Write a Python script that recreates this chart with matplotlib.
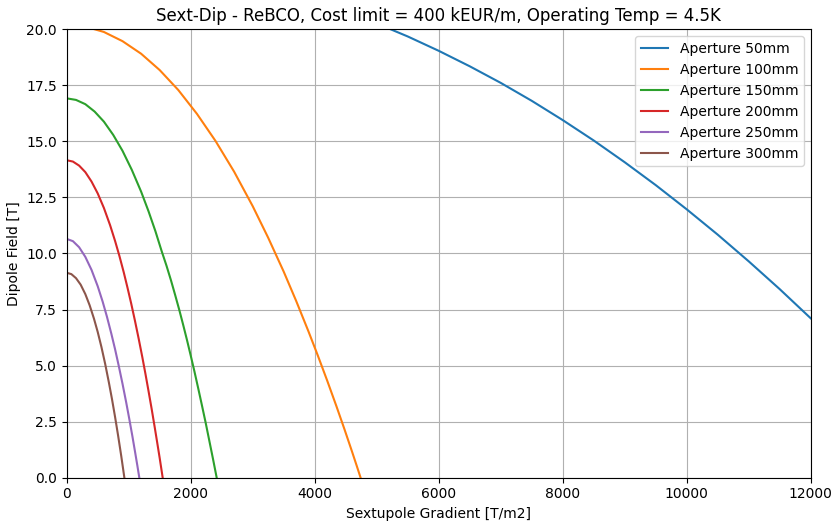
import matplotlib
matplotlib.use('Agg')
import matplotlib.pyplot as plt

# Dipole field vs. sextupole gradient at fixed cost, one curve per aperture
grad_50 = [0, 1000, 2000, 3000, 4000, 4500, 5000, 5500, 6000, 6500, 7000, 7500, 8000,
           8500, 9000, 9500, 10000, 10500, 11000, 11500, 12000]
field_50 = [23.02, 22.91, 22.58, 22.03, 21.25, 20.78, 20.26, 19.68, 19.04, 18.35, 17.61, 16.81, 15.95,
            15.04, 14.07, 13.05, 11.97, 10.84, 9.65, 8.41, 7.11]

grad_100 = [0, 300, 600, 900, 1200, 1500, 1800, 2100, 2400, 2700, 3000, 3250, 3500, 3700,
            3900, 4050, 4200, 4350, 4480, 4600, 4680, 4740]
field_100 = [20.2, 20.12, 19.88, 19.47, 18.91, 18.18, 17.29, 16.23, 15.02, 13.65, 12.11, 10.70, 9.19, 7.89,
             6.52, 5.45, 4.34, 3.19, 2.16, 1.18, 0.51, 0.0]

grad_150 = [0, 150, 300, 450, 600, 750, 900, 1050, 1200, 1320, 1430, 1532, 1610, 1682, 1750,
            1816, 1880, 1940, 2000, 2060, 2120, 2180, 2242, 2300, 2360, 2419]
field_150 = [16.92, 16.85, 16.66, 16.33, 15.88, 15.29, 14.58, 13.73, 12.76, 11.88, 11.0, 10.1, 9.45, 8.8, 8.14,
             7.48, 6.80, 6.14, 5.45, 4.74, 4.0, 3.24, 2.44, 1.65, 0.83, 0.0]

grad_200 = [0, 100, 200, 300, 400, 500, 600, 700, 780, 850, 920, 980, 1040, 1100, 1160,
            1220, 1270, 1320, 1370, 1420, 1460, 1500, 1548]
field_200 = [14.16, 14.10, 13.92, 13.63, 13.21, 12.68, 12.03, 11.26, 10.56, 9.89, 9.16, 8.48, 7.77, 7.01, 6.21,
             5.37, 4.63, 3.86, 3.07, 2.24, 1.56, 0.87, 0.0]

grad_250 = [0, 100, 200, 300, 400, 500, 580, 650, 720, 780, 840, 900, 960, 1010, 1060,
            1100, 1140, 1171]
field_250 = [10.65, 10.55, 10.28, 9.85, 9.27, 8.54, 7.85, 7.17, 6.42, 5.73, 4.98, 4.19, 3.35, 2.61, 1.84,
             1.19, 0.53, 0.0]

grad_300 = [0, 75, 150, 225, 300, 370, 440, 500, 560, 620, 680, 730, 780, 830, 880, 930]
field_300 = [9.14, 9.08, 8.90, 8.61, 8.19, 7.69, 7.09, 6.50, 5.83, 5.08, 4.25, 3.51, 2.71, 1.86, 0.96, 0.0]

apertures = [50, 100, 150, 200, 250, 300]
gradients = [grad_50, grad_100, grad_150, grad_200, grad_250, grad_300]
fields = [field_50, field_100, field_150, field_200, field_250, field_300]

fig = plt.figure(figsize=(8.37, 5.21), dpi=100)
ax = fig.add_axes([0.0797, 0.0831, 0.8889, 0.8607])

for ap, g, b in zip(apertures, gradients, fields):
    ax.plot(g, b, label=f'Aperture {ap}mm')

ax.set_xlim(0, 12000)
ax.set_ylim(0, 20)
ax.set_xlabel('Sextupole Gradient [T/m2]')
ax.set_ylabel('Dipole Field [T]')
ax.set_title('Sext-Dip - ReBCO, Cost limit = 400 kEUR/m, Operating Temp = 4.5K')
ax.grid(True)
ax.legend(loc='upper right')

fig.savefig('out.png', dpi=100)
